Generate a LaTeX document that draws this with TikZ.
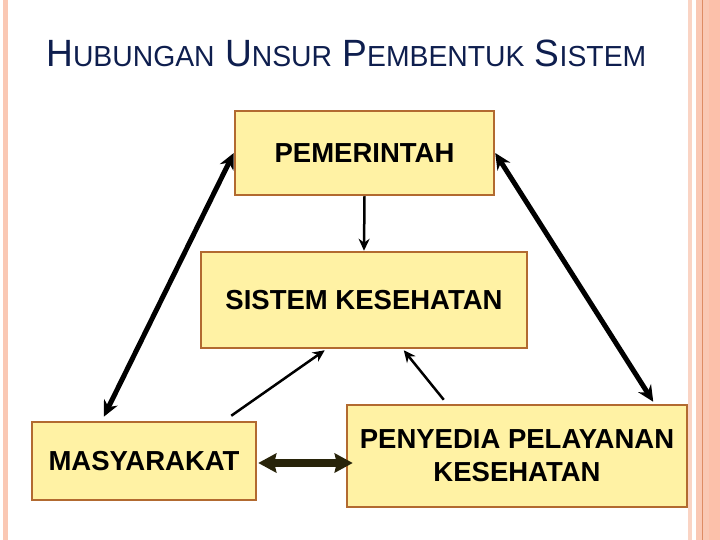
\documentclass[tikz,border=0pt]{standalone}
\usepackage{fontspec}
\setmainfont{Liberation Sans}
\usetikzlibrary{arrows.meta,calc}
\definecolor{boxfill}{RGB}{255,242,164}
\definecolor{boxline}{RGB}{178,106,48}
\definecolor{titleblue}{RGB}{14,30,78}
\definecolor{pinklight}{RGB}{250,212,196}
\definecolor{pinkmid}{RGB}{250,200,180}
\definecolor{pinkdeep}{RGB}{252,192,170}
\definecolor{pinkrule}{RGB}{222,140,100}
\definecolor{arrowdark}{RGB}{40,36,10}
\newcommand{\capsc}[2]{{\fontsize{38}{42}\selectfont #1}{\fontsize{29}{32}\selectfont #2}}

\begin{document}
\begin{tikzpicture}[
  x=1pt, y=-1pt,
  box/.style   = {rectangle, draw=boxline, fill=boxfill, line width=2.5pt,
                  align=center, inner sep=0pt,
                  font=\bfseries\fontsize{27.5}{33}\selectfont},
  fl/.style    = {{Stealth[length=16pt,width=15pt]}-{Stealth[length=16pt,width=15pt]},
                  line width=5pt},
  hl/.style    = {{Stealth[length=18pt,width=19pt,inset=2pt]}-{Stealth[length=18pt,width=19pt,inset=2pt]},
                  arrowdark, line width=8pt},
  tl/.style    = {-{Stealth[length=12pt,width=11pt]}, line width=2.5pt},
  title/.style = {anchor=base west, inner sep=0pt, text=titleblue,
                  font=\fontsize{38}{42}\selectfont, xscale=0.977}
]
\useasboundingbox (0,0) rectangle (720,540);

% --- Pinggir halaman ---------------------------------------------------------
\fill[pinkmid]   (3,0) rectangle (8,540);
\fill[pinklight] (688,0) rectangle (692,540);
\fill[pinkmid]   (696,0) rectangle (720,540);
\fill[pinkdeep]  (709,0) rectangle (720,540);
\draw[pinkrule, line width=1pt] (702.5,0) -- (702.5,540);

% --- Judul -------------------------------------------------------------------
\node[title] (judul) at (46,67)
     {\capsc{H}{UBUNGAN} \capsc{U}{NSUR} \capsc{P}{EMBENTUK} \capsc{S}{ISTEM}};

% --- Kotak -------------------------------------------------------------------
\node[box, minimum width=259pt, minimum height=84pt]  (pem)  at (364.5,153) {PEMERINTAH};
\node[box, minimum width=326pt, minimum height=96pt]  (sis)  at (364,300)   {SISTEM KESEHATAN};
\node[box, minimum width=224pt, minimum height=78pt]  (masy) at (144,461)   {MASYARAKAT};
\node[box, minimum width=340pt, minimum height=102pt] (peny) at (517,456)
     {PENYEDIA PELAYANAN\\ KESEHATAN};

% --- Ujung bebas -------------------------------------------------------------
\coordinate (masyA) at ($(masy.north west)+(73,-4)$);
\coordinate (masyB) at ($(masy.north east)+(-26,-5)$);
\coordinate (masyC) at ($(masy.east)+(1,2)$);
\coordinate (penyA) at ($(peny.north east)+(-35,-2)$);
\coordinate (penyB) at ($(peny.north west)+(98,-4)$);
\coordinate (penyC) at ($(masyC -| peny.west)+(7,0)$);
\coordinate (sisA)  at ($(sis.south west)+(125,1)$);
\coordinate (sisB)  at ($(sis.south west)+(204,1)$);

% --- Panah -------------------------------------------------------------------
\draw[tl] (pem.south) -- (sis.north);
\draw[fl] (pem.west) -- (masyA);
\draw[fl] (pem.east) -- (penyA);
\draw[tl] (masyB) -- (sisA);
\draw[tl] (penyB) -- (sisB);
\draw[hl] (masyC) -- (penyC);

\end{tikzpicture}
\end{document}
